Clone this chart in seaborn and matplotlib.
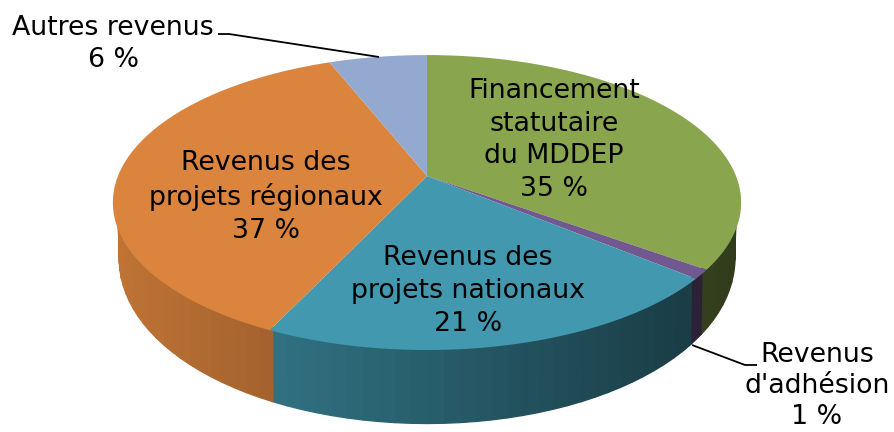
import numpy as np
import matplotlib
matplotlib.use("Agg")
import matplotlib.pyplot as plt
from matplotlib.path import Path
from matplotlib.transforms import Transform, Affine2D
import seaborn as sns

categories = ["Financement\nstatutaire\ndu MDDEP", "Revenus\nd'adhésion", "Revenus des\nprojets nationaux",
              "Revenus des\nprojets régionaux", "Autres revenus"]
values = [35, 1, 21, 37, 6]
colors = ["#89A54E", "#71588F", "#4198AF", "#DB843D", "#93A9CF"]
label_centers = [(554, 140), (817, 386), (468, 291), (266, 197), (113, 44)]
label_spacing = [1.33, 1.25, 1.33, 1.33, 1.33]
leaders = [None, [(692, 345), (745, 365), (757, 365)], None, None, [(218, 34), (229, 34), (379, 57)]]

# Projection of the unit disc to the picture (tilted, with perspective)
CX, CY = 427.0, 176.0
A, B, K = 309.0, 142.7, 0.18
BASE_SCALE, DROP, DROP_SLOPE = 0.98, 52.0, 25.0
RIM_INSET = 0.985


def project(u, v):
    w = 1 + K * v
    return CX + A * u / w, CY - B * v / w


def project_base(u, v):
    w = 1 + K * v
    return CX + BASE_SCALE * A * u / w, CY - BASE_SCALE * B * v / w + DROP - DROP_SLOPE * v


class DiscProjection(Transform):
    input_dims = 2
    output_dims = 2
    is_affine = False

    def transform_non_affine(self, values):
        values = np.asarray(values, dtype=float)
        x, y = project(values[:, 0], values[:, 1])
        return np.column_stack([x, y])

    def transform_path_non_affine(self, path):
        # flatten the arcs first, so that the projected rim stays smooth
        polygons = path.to_polygons(transform=Affine2D().scale(2000), closed_only=False)
        verts = np.concatenate(polygons) / 2000
        return Path(self.transform_non_affine(verts), closed=False)


sns.set_theme(style="white")
plt.rcParams["font.family"] = ["DejaVu Sans"]
palette = sns.color_palette(colors)

fig = plt.figure(figsize=(8.94, 4.32), dpi=100)
ax = fig.add_axes([0, 0, 1, 1])

wedges, _ = ax.pie(values, colors=palette, startangle=90, counterclock=False,
                   wedgeprops=dict(linewidth=0, zorder=3))
ax.set_aspect("auto")
ax.set_xlim(0, 894)
ax.set_ylim(432, 0)
ax.axis("off")

proj = DiscProjection() + ax.transData
for w in wedges:
    w.set_transform(proj)
    w.set_clip_on(False)

# Shaded side wall, lit from the left; only the part that faces the viewer
cum = np.cumsum([0] + values) / sum(values)
for i, col in enumerate(palette):
    t0, t1 = np.pi / 2 - 2 * np.pi * cum[i], np.pi / 2 - 2 * np.pi * cum[i + 1]
    n = max(1, int(abs(t1 - t0) / np.radians(2.5)))
    ts = np.linspace(t0, t1, n + 1)
    for a, b in zip(ts[:-1], ts[1:]):
        if max(np.sin(a), np.sin(b)) > 0.02:
            continue
        xa, ya = project(RIM_INSET * np.cos(a), RIM_INSET * np.sin(a))
        xb, yb = project(RIM_INSET * np.cos(b), RIM_INSET * np.sin(b))
        xc, yc = project_base(np.cos(b), np.sin(b))
        xd, yd = project_base(np.cos(a), np.sin(a))
        f = 0.97 - 0.00083 * (xa + xb) / 2
        shade = tuple(c * f for c in col)
        ax.fill([xa, xb, xc, xd], [ya, yb, yc, yd], facecolor=shade, edgecolor=shade, lw=0.9, zorder=2)

for name, val, (lx, ly), ls, lead in zip(categories, values, label_centers, label_spacing, leaders):
    ax.text(lx, ly, f"{name}\n{val} %", ha="center", va="center", fontsize=19.3,
            color="black", linespacing=ls, zorder=5)
    if lead:
        ax.plot(*zip(*lead), color="black", lw=1.3, zorder=4, solid_capstyle="butt")

fig.savefig("out.png", dpi=100, facecolor="white")
